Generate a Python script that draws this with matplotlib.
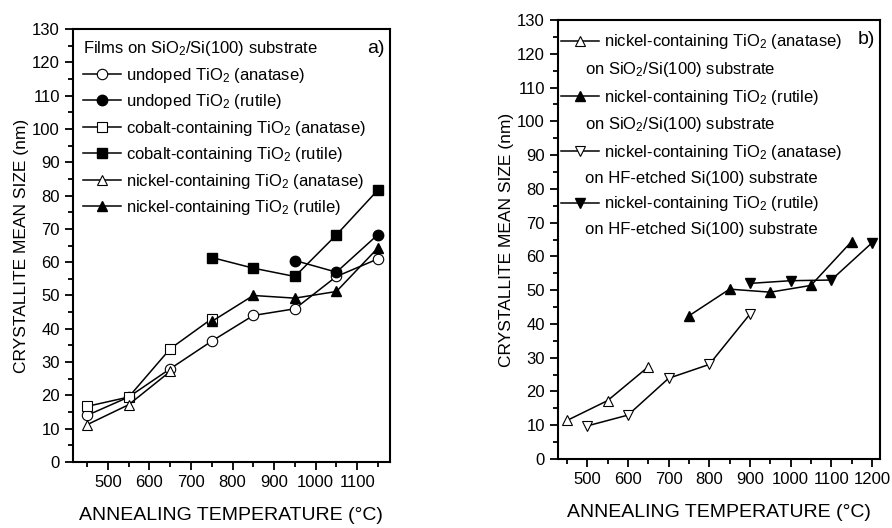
import matplotlib
matplotlib.use('Agg')
import matplotlib.pyplot as plt
from matplotlib.lines import Line2D
from matplotlib.ticker import MultipleLocator

plt.rcParams['font.family'] = ['Liberation Sans', 'DejaVu Sans']
plt.rcParams['mathtext.fontset'] = 'custom'
plt.rcParams['mathtext.rm'] = 'Liberation Sans'
plt.rcParams['mathtext.it'] = 'Liberation Sans:italic'

# panel a) - films on SiO2/Si(100)
undoped_ana_t = [450, 550, 650, 750, 850, 950, 1050, 1150]
undoped_ana = [14, 19.5, 28, 36.3, 44, 46, 55.7, 61]
undoped_rut_t = [950, 1050, 1150]
undoped_rut = [60.5, 57, 68.3]
cobalt_ana_t = [450, 550, 650, 750]
cobalt_ana = [16.7, 19.5, 34, 43]
cobalt_rut_t = [750, 850, 950, 1050, 1150]
cobalt_rut = [61.4, 58.2, 55.7, 68.2, 81.7]
nickel_ana_t = [450, 550, 650]
nickel_ana = [11.2, 17.2, 27.2]
nickel_rut_t = [750, 850, 950, 1050, 1150]
nickel_rut = [42.2, 50, 49.2, 51.2, 64.3]

# panel b) - nickel-containing films on two substrates
sio2_ana_t = [450, 550, 650]
sio2_ana = [11.4, 17.3, 27.3]
sio2_rut_t = [750, 850, 950, 1050, 1150]
sio2_rut = [42.4, 50.3, 49.4, 51.4, 64.4]
hf_ana_t = [500, 600, 700, 800, 900]
hf_ana = [9.8, 13, 23.9, 28, 42.9]
hf_rut_t = [900, 1000, 1100, 1200]
hf_rut = [52, 52.8, 53, 64]

fig = plt.figure(figsize=(8.92, 5.28), dpi=100)
ax1 = fig.add_axes([0.0818, 0.125, 0.355, 0.82])
ax2 = fig.add_axes([0.6256, 0.1307, 0.361, 0.8314])

ms = 7.5
open_kw = dict(color='black', lw=1.1, mfc='white', mec='black', mew=0.8, ms=ms)
fill_kw = dict(color='black', lw=1.1, mfc='black', mec='black', ms=ms)

ax1.plot(undoped_ana_t, undoped_ana, marker='o', label=r'undoped TiO$_2$ (anatase)', **open_kw)
ax1.plot(undoped_rut_t, undoped_rut, marker='o', label=r'undoped TiO$_2$ (rutile)', **fill_kw)
ax1.plot(cobalt_ana_t, cobalt_ana, marker='s', label=r'cobalt-containing TiO$_2$ (anatase)', **open_kw)
ax1.plot(cobalt_rut_t, cobalt_rut, marker='s', label=r'cobalt-containing TiO$_2$ (rutile)', **fill_kw)
ax1.plot(nickel_ana_t, nickel_ana, marker='^', label=r'nickel-containing TiO$_2$ (anatase)', **open_kw)
ax1.plot(nickel_rut_t, nickel_rut, marker='^', label=r'nickel-containing TiO$_2$ (rutile)', **fill_kw)

l1, = ax2.plot(sio2_ana_t, sio2_ana, marker='^', **open_kw)
l2, = ax2.plot(sio2_rut_t, sio2_rut, marker='^', **fill_kw)
l3, = ax2.plot(hf_ana_t, hf_ana, marker='v', **open_kw)
l4, = ax2.plot(hf_rut_t, hf_rut, marker='v', **fill_kw)

blank = Line2D([], [], linestyle='none', marker='none')
handles = [l1, blank, l2, blank, l3, blank, l4, blank]
labels = [r'nickel-containing TiO$_2$ (anatase)', r'on SiO$_2$/Si(100) substrate',
          r'nickel-containing TiO$_2$ (rutile)', r'on SiO$_2$/Si(100) substrate',
          r'nickel-containing TiO$_2$ (anatase)', r'on HF-etched Si(100) substrate',
          r'nickel-containing TiO$_2$ (rutile)', r'on HF-etched Si(100) substrate']

ax1.legend(loc='upper left', frameon=False, fontsize=12, handlelength=2.3,
           handletextpad=0.3, labelspacing=0.45, borderaxespad=0.2,
           title=r'Films on SiO$_2$/Si(100) substrate', title_fontsize=12,
           alignment='left')
leg2 = ax2.legend(handles, labels, loc='upper left', bbox_to_anchor=(-0.012, 0.987),
                  frameon=False, fontsize=12, handlelength=2.3, handletextpad=0.3,
                  labelspacing=0.52, borderaxespad=0)

# second line of each entry sits a bit left of the first line's text
try:
    for col in leg2._legend_handle_box.get_children():
        for i, row in enumerate(col.get_children()):
            if i % 2 == 1:
                row.get_children()[0].width = 2.3 * 12 - 13.5
except AttributeError:
    pass

ax1.text(0.985, 0.975, 'a)', transform=ax1.transAxes, ha='right', va='top', fontsize=14)
ax2.text(0.985, 0.975, 'b)', transform=ax2.transAxes, ha='right', va='top', fontsize=14)

for ax, xlim, xt in [(ax1, (416, 1178), range(500, 1101, 100)),
                     (ax2, (428, 1220), range(500, 1201, 100))]:
    ax.set_xlim(*xlim)
    ax.set_ylim(0, 130)
    ax.set_xticks(list(xt))
    ax.xaxis.set_minor_locator(MultipleLocator(50))
    ax.yaxis.set_major_locator(MultipleLocator(10))
    ax.yaxis.set_minor_locator(MultipleLocator(5))
    ax.tick_params(which='major', direction='out', length=6, width=1.3, labelsize=12)
    ax.tick_params(which='minor', direction='out', length=3.5, width=1.3)
    for s in ax.spines.values():
        s.set_linewidth(1.5)
    ax.set_xlabel('ANNEALING TEMPERATURE (°C)', fontsize=14, labelpad=12)
    ax.set_ylabel('CRYSTALLITE MEAN SIZE (nm)', fontsize=12.5, labelpad=2)

fig.savefig('out.png', dpi=100)
